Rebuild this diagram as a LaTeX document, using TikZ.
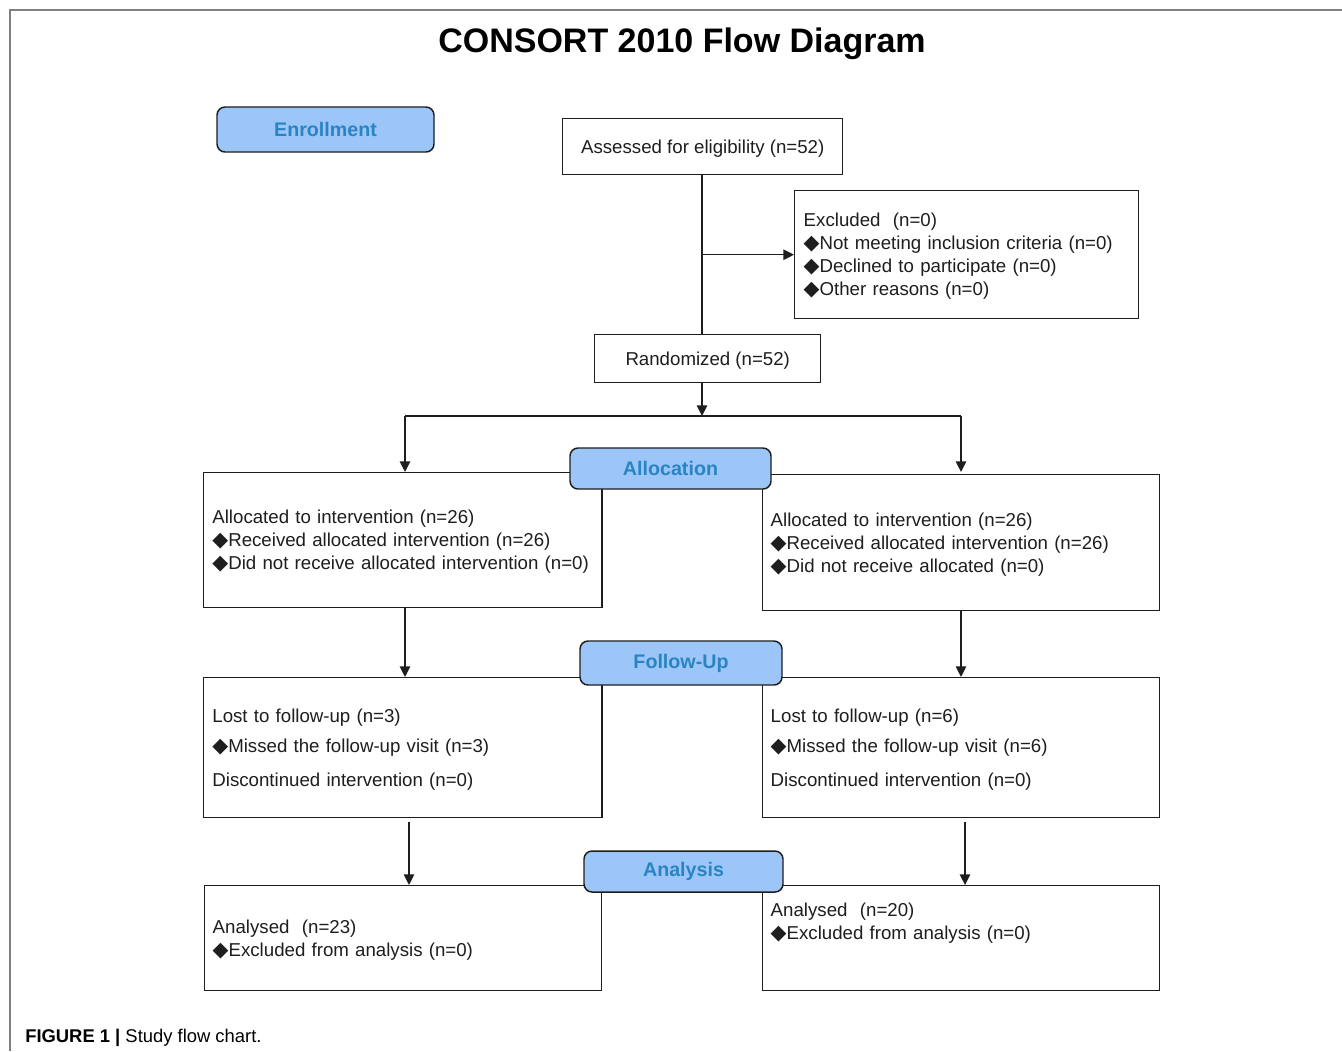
\documentclass[tikz,border=0pt]{standalone}
\usepackage{fontspec}
\setmainfont{Liberation Sans}
\newfontfamily\djv{DejaVu Sans}
\usetikzlibrary{arrows.meta}
\definecolor{hfill}{HTML}{9CC6F8}
\definecolor{htext}{HTML}{2A84C4}
\definecolor{framegray}{HTML}{808080}
\definecolor{ink}{HTML}{1E1E1E}
\newcommand{\dia}{{\djv\fontsize{15.5}{17}\selectfont\char"25C6}}
\tikzset{
  box/.style={draw=ink, line width=1.1pt, rectangle, inner ysep=0pt, inner xsep=6.5pt,
    anchor=north west, align=left, text=ink, font=\fontsize{14}{17.25}\selectfont,
    execute at begin node={\rule{0pt}{13pt}}},
  headbox/.style={draw=ink, line width=1.1pt, rounded corners=6pt, fill=hfill, text=htext,
    font=\fontsize{14.75}{17}\selectfont\bfseries, inner sep=0pt},
  arr/.style={draw=ink, line width=1.1pt, -{Triangle[length=8pt,width=7.8pt]}},
  conn/.style={draw=ink, line width=1.1pt}
}
\begin{document}
\begin{tikzpicture}[x=0.75pt,y=-0.75pt]
\useasboundingbox (0,0) rectangle (1342,1051);
\fill[white] (0,0) rectangle (1342,1051);
\draw[framegray, line width=1pt] (10,1051) -- (10,10) -- (1342,10);

\node[anchor=base, font=\fontsize{25.5}{30}\selectfont\bfseries, text=black] (title) at (682,52) {CONSORT 2010 Flow Diagram};

% boxes
\node[box, minimum width=210pt, minimum height=42pt, align=center, inner xsep=0pt] (assess) at (562,118) {Assessed for eligibility (n=52)};
\node[box, text width=244.5pt, minimum height=96pt, inner xsep=6.75pt] (excl) at (794,190)
  {Excluded\ \ (n=0)\\ \dia Not meeting inclusion criteria (n=0)\\ \dia Declined to participate (n=0)\\ \dia Other reasons (n=0)};
\node[box, minimum width=169.5pt, minimum height=36pt, align=center, inner xsep=0pt] (rand) at (594,334) {Randomized (n=52)};

\node[box, text width=285.75pt, minimum height=101.25pt] (allocL) at (203,472)
  {Allocated to intervention (n=26)\\ \dia Received allocated intervention (n=26)\\ \dia Did not receive allocated intervention (n=0)};
\node[box, text width=285.5pt, minimum height=102pt, inner xsep=6pt] (allocR) at (762,474)
  {Allocated to intervention (n=26)\\ \dia Received allocated intervention (n=26)\\ \dia Did not receive allocated (n=0)};

\node[box, text width=285.75pt, minimum height=105pt] (folL) at (203,677)
  {Lost to follow-up (n=3)\\[5.25pt] \dia Missed the follow-up visit (n=3)\\[8.25pt] Discontinued intervention (n=0)};
\node[box, text width=285.5pt, minimum height=105pt, inner xsep=6pt] (folR) at (762,677)
  {Lost to follow-up (n=6)\\[5.25pt] \dia Missed the follow-up visit (n=6)\\[8.25pt] Discontinued intervention (n=0)};

\node[box, text width=285.5pt, minimum height=78.75pt, inner xsep=6pt] (anL) at (204,885)
  {Analysed\ \ (n=23)\\ \dia Excluded from analysis (n=0)};
\node[box, text width=285.5pt, minimum height=78.75pt, inner xsep=6pt] (anR) at (762,885)
  {Analysed\ \ (n=20)\\ \dia Excluded from analysis (n=0)\\[6pt]\strut};

% connectors
\coordinate (j) at (702,416);
\coordinate (jl) at (405,416);
\coordinate (jr) at (961,416);
\coordinate (fl) at (409,822);
\coordinate (fr) at (965,822);
\draw[conn] (assess.south -| j) -- (rand.north -| j);
\draw[arr] (excl.west -| j) -- (excl.west);
\draw[arr] (rand.south -| j) -- (j);
\draw[conn] (jl) -- (jr);
\draw[arr] (jl) -- (jl |- allocL.north);
\draw[arr] (jr) -- (jr |- allocL.north);
\draw[arr] (allocL.south -| jl) -- (folL.north -| jl);
\draw[arr] (allocR.south -| jr) -- (folR.north -| jr);
\draw[arr] (fl) -- (fl |- anL.north);
\draw[arr] (fr) -- (fr |- anR.north);

% headings
\node[headbox, minimum width=162.75pt, minimum height=33.75pt] (enroll) at (325.5,129.5) {Enrollment};
\node[headbox, minimum width=150.75pt, minimum height=30.75pt] (alloc) at (670.5,468.5) {Allocation};
\node[headbox, minimum width=151.5pt, minimum height=33pt] (follow) at (681,663) {Follow-Up};
\node[headbox, minimum width=149.25pt, minimum height=30.75pt] (analysis) at (683.5,871.5) {Analysis};

% caption
\node[anchor=base west, font=\fontsize{13.8}{16}\selectfont, text=black, inner sep=0pt] (cap) at (25,1042) {\textbf{FIGURE 1 |} Study flow chart.};
\end{tikzpicture}
\end{document}
